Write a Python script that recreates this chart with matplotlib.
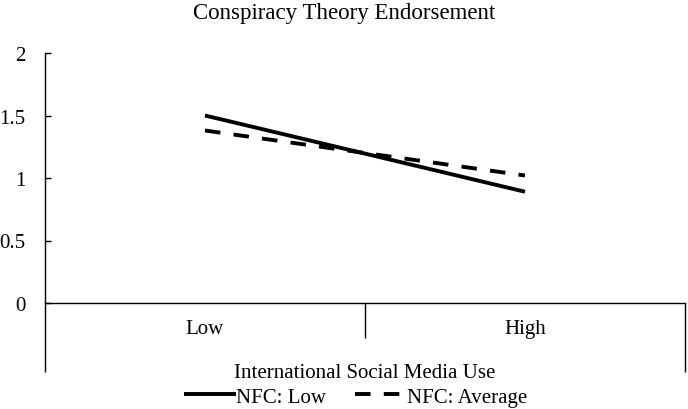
# Interaction plot: conspiracy theory endorsement by social media use and NFC
import matplotlib.pyplot as plt
import matplotlib.transforms as mtransforms

plt.rcParams['font.family'] = ['Liberation Serif', 'DejaVu Serif']

categories = ['Low', 'High']
nfc_low = [1.50, 0.89]
nfc_avg = [1.38, 1.02]
series_names = ['NFC: Low', 'NFC: Average']

fig = plt.figure(figsize=(6.88, 4.10), dpi=100)
ax = fig.add_axes([45/688, 1 - 304/410, 640/688, 250/410])

x = list(range(len(categories)))
ax.plot(x, nfc_low, color='black', lw=2.8, solid_capstyle='butt', label=series_names[0])
ax.plot(x, nfc_avg, color='black', lw=2.8, dashes=(4, 3.4), dash_capstyle='butt',
        label=series_names[1])

ax.set_xlim(-0.5, 1.5)
ax.set_ylim(0, 2)
ax.set_yticks([0, 0.5, 1, 1.5, 2])
ax.set_yticklabels(['0', '0.5', '1', '1.5', '2'])
ax.tick_params(axis='y', direction='in', length=4, width=1, labelsize=15, pad=14)

# category separators below the axis
ax.set_xticks([-0.5, 1.5])
ax.set_xticks([0.5], minor=True)
ax.tick_params(axis='x', which='major', length=50, width=1, labelbottom=False)
ax.tick_params(axis='x', which='minor', length=25, width=1, labelbottom=False)

for sp in ['top', 'right']:
    ax.spines[sp].set_visible(False)
ax.spines['left'].set_linewidth(1)
ax.spines['bottom'].set_linewidth(1)

trans = mtransforms.blended_transform_factory(ax.transData, ax.transAxes)
for xi, c in zip(x, categories):
    ax.text(xi, -0.104, c, transform=trans, ha='center', va='center', fontsize=15)

ax.text(0.5, -0.28, 'International Social Media Use', transform=ax.transAxes,
        ha='center', va='center', fontsize=15)

fig.text(0.5, 0.968, 'Conspiracy Theory Endorsement', ha='center', va='center', fontsize=16.5)

ax.legend(loc='center', bbox_to_anchor=(0.485, -0.375), ncol=2, frameon=False,
          fontsize=15, handlelength=2.5, handletextpad=0.0, columnspacing=1.4,
          borderpad=0, borderaxespad=0)

fig.savefig('out.png', dpi=100)
